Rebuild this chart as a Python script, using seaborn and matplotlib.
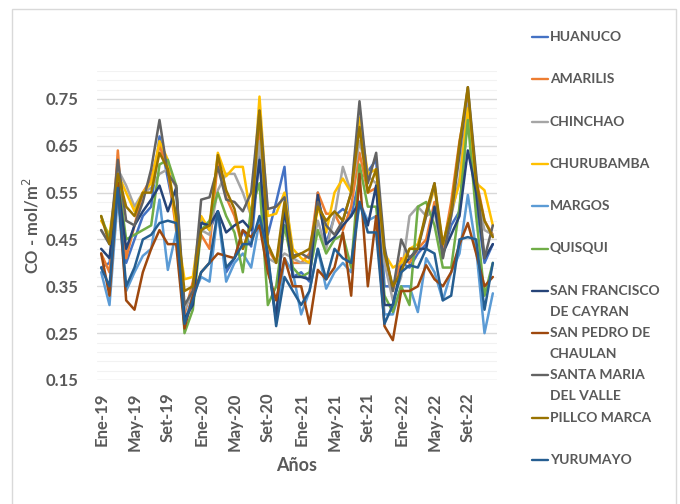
import numpy as np
import pandas as pd
import matplotlib
matplotlib.use('Agg')
import matplotlib.pyplot as plt
import seaborn as sns
from matplotlib.lines import Line2D
from matplotlib.patches import Rectangle
from matplotlib.ticker import FixedLocator

# meses ene-2019 .. dic-2022
abrev = ['Ene', 'Feb', 'Mar', 'Abr', 'May', 'Jun', 'Jul', 'Ago', 'Set', 'Oct', 'Nov', 'Dic']
meses = [f'{m}-{a}' for a in ['19', '20', '21', '22'] for m in abrev]

huanuco = [.39, .40, .55, .40, .45, .50, .52, .67, .58, .49, .27, .33,
           .49, .47, .51, .38, .41, .47, .435, .635, .46, .53, .605, .37,
           .38, .36, .55, .44, .50, .515, .50, .58, .595, .62, .35, .35,
           .40, .39, .42, .44, .52, .42, .48, .51, .72, .53, .40, .44]
amarilis = [.42, .38, .64, .41, .48, .55, .58, .65, .60, .47, .29, .36,
            .46, .43, .62, .54, .50, .43, .48, .70, .43, .40, .48, .40,
            .40, .42, .55, .505, .505, .47, .52, .635, .55, .56, .42, .34,
            .41, .40, .43, .45, .53, .43, .53, .66, .755, .58, .49, .46]
chinchao = [.47, .44, .60, .565, .52, .55, .56, .59, .60, .56, .30, .34,
            .47, .46, .555, .59, .59, .55, .50, .66, .41, .40, .42, .41,
            .40, .40, .49, .43, .50, .605, .55, .66, .585, .57, .40, .32,
            .37, .50, .52, .50, .51, .41, .50, .58, .74, .55, .47, .46]
churubamba = [.49, .46, .59, .55, .51, .55, .57, .66, .62, .48, .365, .37,
              .50, .47, .635, .585, .605, .605, .495, .755, .50, .505, .55, .43,
              .41, .40, .52, .465, .55, .58, .55, .71, .59, .60, .42, .39,
              .40, .43, .44, .50, .56, .44, .51, .57, .73, .57, .555, .48]
margos = [.38, .31, .54, .34, .38, .415, .43, .535, .385, .465, .27, .33,
          .37, .36, .51, .36, .40, .42, .39, .49, .41, .28, .41, .38,
          .29, .34, .43, .345, .38, .40, .38, .53, .49, .50, .29, .29,
          .35, .35, .295, .41, .38, .32, .38, .42, .545, .43, .25, .335]
quisqui = [.50, .45, .58, .45, .46, .47, .48, .61, .62, .565, .25, .30,
           .47, .49, .55, .50, .465, .38, .515, .57, .31, .35, .48, .39,
           .37, .38, .47, .42, .45, .46, .39, .61, .52, .52, .33, .295,
           .35, .31, .52, .53, .48, .39, .39, .52, .705, .50, .33, .40]
san_francisco = [.43, .41, .57, .43, .48, .51, .535, .565, .51, .56, .28, .31,
                 .485, .48, .51, .465, .48, .49, .47, .62, .40, .28, .52, .37,
                 .37, .365, .545, .44, .455, .48, .50, .53, .48, .565, .31, .31,
                 .39, .41, .43, .43, .52, .42, .46, .50, .64, .55, .41, .44]
san_pedro = [.42, .33, .57, .32, .30, .38, .43, .47, .44, .44, .26, .33,
             .38, .40, .42, .415, .41, .47, .455, .48, .38, .32, .41, .35,
             .35, .27, .385, .365, .39, .465, .33, .59, .35, .50, .265, .235,
             .34, .34, .35, .395, .365, .35, .38, .44, .485, .42, .35, .37]
santa_maria = [.47, .44, .62, .49, .48, .53, .60, .705, .59, .565, .31, .34,
               .535, .54, .605, .535, .53, .51, .55, .725, .515, .52, .54, .415,
               .42, .41, .53, .48, .46, .49, .55, .745, .57, .635, .435, .34,
               .45, .41, .43, .50, .57, .41, .50, .63, .775, .59, .41, .48]
pillco_marca = [.50, .44, .59, .52, .50, .55, .55, .635, .60, .50, .34, .35,
                .47, .48, .63, .555, .515, .43, .48, .725, .44, .40, .53, .41,
                .42, .43, .52, .49, .51, .49, .55, .69, .55, .60, .42, .35,
                .38, .43, .43, .51, .57, .44, .51, .655, .775, .57, .49, .455]
yurumayo = [.39, .35, .56, .35, .39, .45, .46, .485, .49, .485, .27, .32,
            .38, .40, .51, .39, .41, .44, .44, .50, .42, .265, .37, .34,
            .31, .34, .43, .365, .43, .41, .40, .53, .465, .465, .27, .31,
            .38, .395, .39, .43, .42, .32, .33, .45, .455, .45, .30, .40]

distritos = ['HUANUCO', 'AMARILIS', 'CHINCHAO', 'CHURUBAMBA', 'MARGOS', 'QUISQUI',
             'SAN FRANCISCO\nDE CAYRAN', 'SAN PEDRO DE\nCHAULAN', 'SANTA MARIA\nDEL VALLE',
             'PILLCO MARCA', 'YURUMAYO']
series = [huanuco, amarilis, chinchao, churubamba, margos, quisqui,
          san_francisco, san_pedro, santa_maria, pillco_marca, yurumayo]
colores = ['#4472C4', '#ED7D31', '#A5A5A5', '#FFC000', '#5B9BD5', '#70AD47',
           '#264478', '#9E480E', '#636363', '#997300', '#255E91']

df = pd.concat([pd.DataFrame({'mes': np.arange(len(meses)), 'co': vals, 'distrito': d})
                for d, vals in zip(distritos, series)], ignore_index=True)

sns.set_style('white')
plt.rcParams['font.family'] = ['Lato', 'DejaVu Sans']
txt = '#595959'

fig = plt.figure(figsize=(6.8, 5.04), dpi=100)
ax = fig.add_axes([97 / 680, 1 - 380 / 504, 400 / 680, 309.2 / 504])

sns.lineplot(data=df, x='mes', y='co', hue='distrito', hue_order=distritos,
             palette=dict(zip(distritos, colores)), linewidth=1.8, legend=False, ax=ax)

ax.set_xlim(-0.5, len(meses) - 0.5)
ax.set_ylim(0.15, 0.81)
ax.yaxis.set_major_locator(FixedLocator(np.round(np.arange(0.15, 0.76, 0.1), 2)))
ax.yaxis.set_minor_locator(FixedLocator(np.round(np.arange(0.15, 0.815, 0.02), 2)))
ax.set_yticklabels([f'{v:.2f}' for v in np.arange(0.15, 0.76, 0.1)])
ax.grid(True, which='major', axis='y', color='#D9D9D9', linewidth=1)
ax.grid(True, which='minor', axis='y', color='#F2F2F2', linewidth=0.8)
ax.set_axisbelow(True)

pos = list(range(0, len(meses), 4))
ax.set_xticks(pos)
ax.set_xticklabels([meses[i] for i in pos], rotation=90)
ax.tick_params(axis='x', length=0, pad=9, labelsize=12, labelcolor=txt)
ax.tick_params(axis='y', which='both', length=0, pad=13, labelsize=12, labelcolor=txt)
for lb in ax.get_xticklabels() + ax.get_yticklabels():
    lb.set_fontweight('bold')

for s in ax.spines.values():
    s.set_visible(False)

ax.set_xlabel('Años', fontsize=13, fontweight='bold', color=txt)
ax.xaxis.set_label_coords(0.5, -0.25)
ax.set_ylabel('CO - mol/m$^2$', fontsize=12, fontweight='bold', color=txt)
ax.yaxis.set_label_coords(-0.138, 0.5)

# leyenda a la derecha (estilo Excel)
for i, (nombre, c) in enumerate(zip(distritos, colores)):
    ypix = 37 + 42.3 * i
    yf = 1 - ypix / 504
    fig.add_artist(Line2D([532 / 680, 548 / 680], [yf, yf], color=c, linewidth=1.7,
                          transform=fig.transFigure))
    for j, linea in enumerate(nombre.split('\n')):
        fig.text(550 / 680, 1 - (ypix + 21 * j) / 504, linea, fontsize=10,
                 fontweight='bold', color=txt, va='center', ha='left')

fig.add_artist(Rectangle((12 / 680, -0.01), 664 / 680, 1 - 9 / 504 + 0.01,
                         transform=fig.transFigure, fill=False,
                         edgecolor='#D9D9D9', linewidth=1))

fig.savefig('out.png', dpi=100)
